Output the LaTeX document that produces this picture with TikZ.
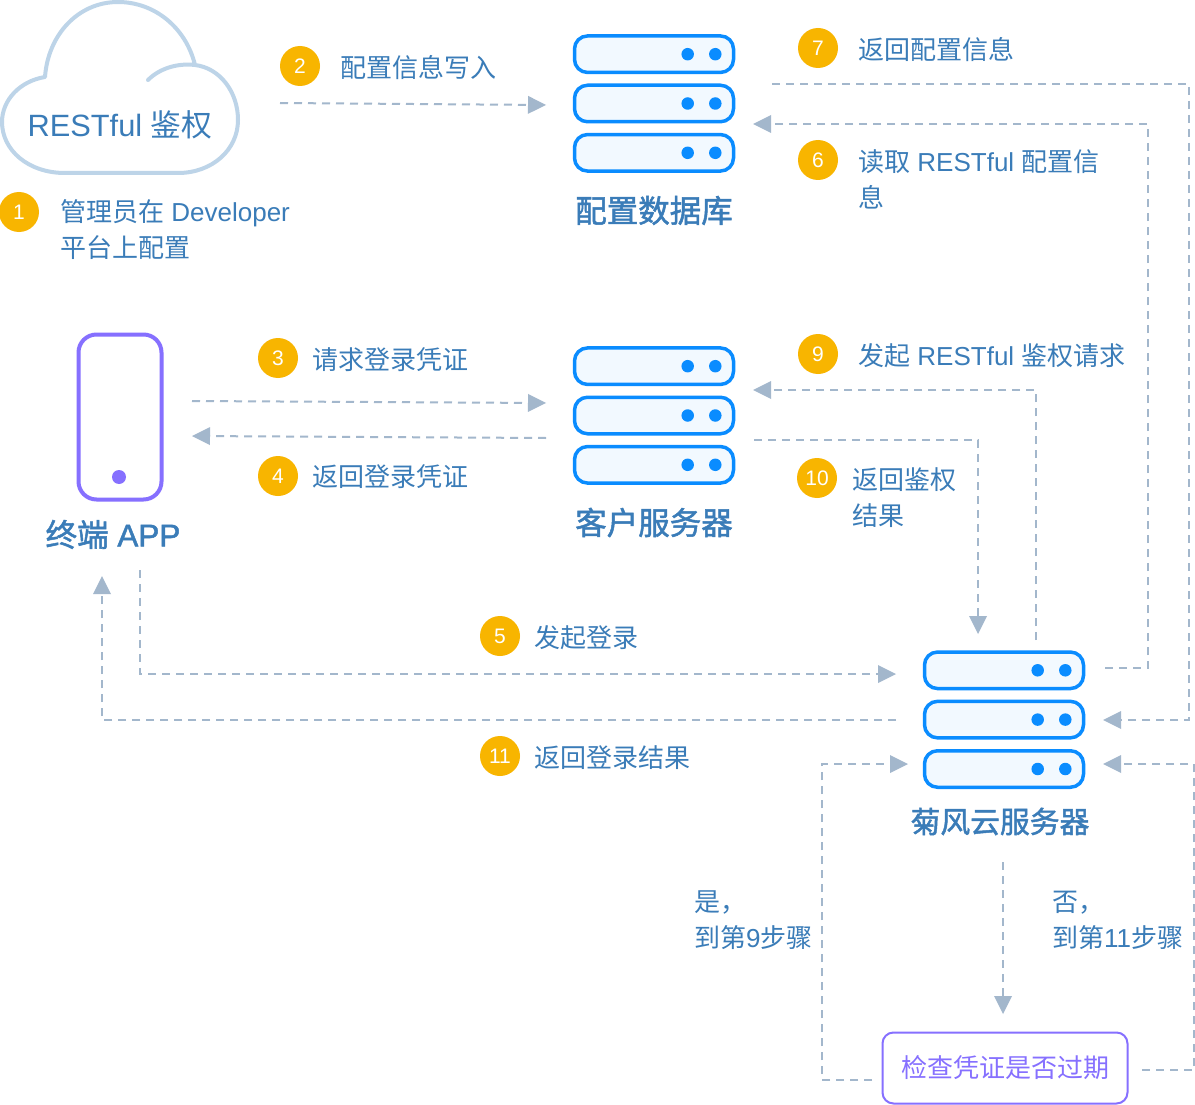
\documentclass[tikz,border=0pt]{standalone}
\usepackage{fontspec}
\setmainfont{Liberation Sans}
\newfontfamily\cjkf{Noto Sans CJK SC}
\newfontfamily\cjkb[FakeBold=1.6]{Noto Sans CJK SC}
\newfontfamily\latb[FakeBold=1.6]{Liberation Sans}
\newcommand\zh[1]{{\cjkf #1}}
\newcommand\zb[1]{{\cjkb #1}}
\usetikzlibrary{arrows.meta}
\definecolor{tb}{HTML}{3A7CB8}
\definecolor{cloudc}{HTML}{BDD4E8}
\definecolor{srvb}{HTML}{0A8CFF}
\definecolor{srvf}{HTML}{F2F9FF}
\definecolor{purp}{HTML}{8670FF}
\definecolor{orng}{HTML}{F8B500}
\definecolor{arrc}{HTML}{A3B7CC}
\tikzset{
  srv/.style={draw=srvb,fill=srvf,line width=3.5pt,rounded corners=13pt,minimum width=159pt,minimum height=36.5pt,inner sep=0pt,outer sep=0pt},
  dot/.style={circle,fill=srvb,minimum size=12.5pt,inner sep=0pt},
  badge/.style={circle,fill=orng,minimum size=40pt,inner sep=0pt,text=white,font=\fontsize{21}{21}\selectfont},
  lbl/.style={anchor=north west,inner sep=0pt,align=left,text=tb,font=\fontsize{26}{36}\selectfont},
  ttl/.style={inner sep=0pt,text=tb,font=\fontsize{31.5}{36}\selectfont},
  conn/.style={draw=arrc,line width=2pt,dash pattern=on 8pt off 6pt},
  arr/.style={conn,-{Triangle[length=18pt,width=18pt,color=arrc,fill=arrc,line width=0pt]}},
}
\newcommand\serverrow[3]{%
  \node[srv] (#1) at (#2,#3) {};
  \node[dot] (#1a) at (#2+33.7,#3) {};
  \node[dot] (#1b) at (#2+61.3,#3) {};
}
\begin{document}
\begin{tikzpicture}[x=1pt,y=-1pt]
\path[use as bounding box,fill=white] (0,0) rectangle (1195,1105);
% cloud
\draw[draw=cloudc,line width=4pt,line cap=round,line join=round]
 (148,80) .. controls (160,68) and (178,63) .. (195,65)
 .. controls (220,68) and (238,92) .. (238,120)
 .. controls (238,150) and (212,173) .. (178,173) -- (65,173)
 .. controls (28,173) and (2,150) .. (2,122)
 .. controls (2,100) and (20,81) .. (45,77)
 .. controls (48,35) and (78,2) .. (118,2)
 .. controls (155,2) and (186,28) .. (195,65);
\node[inner sep=0pt,text=tb,font=\fontsize{30.8}{36}\selectfont] (cloud) at (120,125) {RESTful \zh{鉴权}};
% servers
\serverrow{dbA}{654}{54.2}
\serverrow{dbB}{654}{103.5}
\serverrow{dbC}{654}{152.8}
\serverrow{csA}{654}{366.2}
\serverrow{csB}{654}{415.5}
\serverrow{csC}{654}{464.8}
\serverrow{jfA}{1004}{670.3}
\serverrow{jfB}{1004}{719.6}
\serverrow{jfC}{1004}{769}
\node[ttl] (dbT) at (654,210.5) {\zb{配置数据库}};
\node[ttl] (csT) at (654,522.5) {\zb{客户服务器}};
\node[ttl,font=\fontsize{29.8}{36}\selectfont] (jfT) at (1000,821.5) {\zb{菊风云服务器}};
% phone
\node[draw=purp,line width=4pt,rounded corners=18pt,minimum width=83pt,minimum height=165pt,inner sep=0pt] (phone) at (120,417) {};
\node[circle,fill=purp,minimum size=14pt,inner sep=0pt] (pdot) at (119,477) {};
\node[ttl] (phT) at (113,534.5) {\zb{终端} {\latb APP}};
% check box
\node[draw=purp,line width=2pt,rounded corners=11pt,minimum width=245pt,minimum height=71pt,inner sep=0pt,text=purp,font=\fontsize{26}{36}\selectfont] (chk) at (1005,1068) {\zh{检查凭证是否过期}};
% badges
\node[badge] (b1) at (19,212) {1};
\node[badge,text=white] (b2) at (300,66) {2};
\node[badge] (b3) at (278,358) {3};
\node[badge] (b4) at (278,476) {4};
\node[badge] (b5) at (500,636) {5};
\node[badge] (b6) at (818,160) {6};
\node[badge] (b7) at (818,48) {7};
\node[badge] (b9) at (818,354) {9};
\node[badge] (b10) at (817,478) {10};
\node[badge] (b11) at (500,756) {11};
% labels (north = line centre - 15.7)
\node[lbl] (t1) at (60,195.7) {\strut\zh{管理员在} Developer\\\strut\zh{平台上配置}};
\node[lbl] (t2) at (340,51.7) {\strut\zh{配置信息写入}};
\node[lbl] (t7) at (858,33.7) {\strut\zh{返回配置信息}};
\node[lbl] (t6) at (858,145.7) {\strut\zh{读取} RESTful \zh{配置信}\\\strut\zh{息}};
\node[lbl] (t3) at (312.5,343.7) {\strut\zh{请求登录凭证}};
\node[lbl] (t4) at (312.5,460.7) {\strut\zh{返回登录凭证}};
\node[lbl] (t9) at (858,339.7) {\strut\zh{发起} RESTful \zh{鉴权请求}};
\node[lbl] (t10) at (852,463.7) {\strut\zh{返回鉴权}\\\strut\zh{结果}};
\node[lbl] (t5) at (534,621.7) {\strut\zh{发起登录}};
\node[lbl] (t11) at (534,741.7) {\strut\zh{返回登录结果}};
\node[lbl] (ty) at (694,885.7) {\strut\zh{是，}\\\strut\zh{到第}9\zh{步骤}};
\node[lbl] (tn) at (1052,885.7) {\strut\zh{否，}\\\strut\zh{到第}11\zh{步骤}};
% free ends of connectors
\coordinate (c2s) at (280,103);
\coordinate (c2e) at (546,105);
\coordinate (c7s) at (772,84);
\coordinate (c7a) at (1189,84);
\coordinate (c7b) at (1189,720);
\coordinate (c7e) at (1103,720);
\coordinate (c6s) at (1105,668);
\coordinate (c6a) at (1148,668);
\coordinate (c6b) at (1148,124);
\coordinate (c6e) at (753,124);
\coordinate (c3s) at (192,401);
\coordinate (c3e) at (546,403);
\coordinate (c4s) at (546,438);
\coordinate (c4e) at (192,436);
\coordinate (c9s) at (1036,640);
\coordinate (c9a) at (1036,390);
\coordinate (c9e) at (753,390);
\coordinate (c10s) at (754,440);
\coordinate (c10a) at (978,440);
\coordinate (c10e) at (978,634);
\coordinate (c5s) at (140,570);
\coordinate (c5a) at (140,674);
\coordinate (c5e) at (896,674);
\coordinate (c11s) at (896,720);
\coordinate (c11a) at (102,720);
\coordinate (c11e) at (102,576);
\coordinate (cys) at (872,1080);
\coordinate (cya) at (822,1080);
\coordinate (cyb) at (822,764);
\coordinate (cye) at (908,764);
\coordinate (cns) at (1142,1070);
\coordinate (cna) at (1194,1070);
\coordinate (cnb) at (1194,764);
\coordinate (cne) at (1103,764);
\coordinate (cds) at (1003,862);
\coordinate (cde) at (1003,1014);
% connectors
\draw[arr] (c2s) -- (c2e);
\draw[arr] (c7s) -- (c7a) -- (c7b) -- (c7e);
\draw[arr] (c6s) -- (c6a) -- (c6b) -- (c6e);
\draw[arr] (c3s) -- (c3e);
\draw[arr] (c4s) -- (c4e);
\draw[arr] (c9s) -- (c9a) -- (c9e);
\draw[arr] (c10s) -- (c10a) -- (c10e);
\draw[arr] (c5s) -- (c5a) -- (c5e);
\draw[arr] (c11s) -- (c11a) -- (c11e);
\draw[arr] (cys) -- (cya) -- (cyb) -- (cye);
\draw[arr] (cns) -- (cna) -- (cnb) -- (cne);
\draw[arr] (cds) -- (cde);
\end{tikzpicture}
\end{document}
